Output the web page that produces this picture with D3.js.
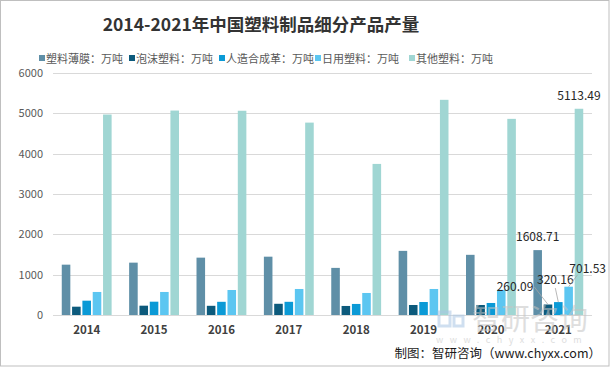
<!DOCTYPE html>
<html><head><meta charset="utf-8">
<script src="https://cdn.jsdelivr.net/npm/d3@7"></script>
<style>body{margin:0;background:#fff}svg{display:block}</style>
</head><body>
<script>
const years = ["2014","2015","2016","2017","2018","2019","2020","2021"];
const seriesNames = ["塑料薄膜：万吨","泡沫塑料：万吨","人造合成革：万吨","日用塑料：万吨","其他塑料：万吨"];
const film    = [1248, 1298, 1422, 1446, 1168, 1590, 1492, 1608.71];
const foam    = [206, 231, 228, 278, 224, 248, 248, 260.09];
const leather = [355, 330, 327, 327, 274, 322, 298, 320.16];
const daily   = [571, 571, 620, 645, 546, 645, 625, 701.53];
const other   = [4970, 5069, 5064, 4770, 3746, 5335, 4863, 5113.49];
const yTicks  = [0,1000,2000,3000,4000,5000,6000];
const colors  = ["#5f8fa7","#0c5a7c","#0b9ad6","#5cc6f1","#a0d6d3"];
const series = [film, foam, leather, daily, other];

const W=610,H=367;
const svg=d3.select("body").append("svg").attr("width",W).attr("height",H);
svg.append("rect").attr("x",0.5).attr("y",0.5).attr("width",W-1.5).attr("height",H-1.5)
  .attr("fill","#fff").attr("stroke","#bfbfbf");

const font="'Microsoft YaHei','Noto Sans CJK SC','Noto Sans',sans-serif";
svg.append("text").attr("x",261).attr("y",31).attr("text-anchor","middle")
  .attr("font-family",font).attr("font-weight","bold").attr("font-size",17.5).attr("fill","#333")
  .text("2014-2021年中国塑料制品细分产品产量");

// legend
const legX=[39,129,219,315,409];
seriesNames.forEach((n,i)=>{
  svg.append("rect").attr("x",legX[i]).attr("y",55).attr("width",6).attr("height",6).attr("fill",colors[i]);
  svg.append("text").attr("x",legX[i]+7).attr("y",63).attr("font-family",font).attr("font-size",11)
    .attr("fill","#595959").text(n);
});

const x0=d3.scaleBand().domain(years).range([53,592]).paddingInner(0.26).paddingOuter(0.13);
const x1=d3.scaleBand().domain(d3.range(5)).range([0,x0.bandwidth()]).paddingInner(0.17);
const y=d3.scaleLinear().domain([0,6000]).range([315,73]);

// gridlines
svg.append("g").selectAll("line").data(yTicks).join("line")
  .attr("x1",53).attr("x2",592).attr("y1",d=>Math.round(y(d))+0.5).attr("y2",d=>Math.round(y(d))+0.5)
  .attr("stroke","#d9d9d9").attr("stroke-width",1);

const yAxis=svg.append("g").attr("transform","translate(47,0)")
  .call(d3.axisLeft(y).tickValues(yTicks).tickFormat(d3.format("d")).tickSize(0).tickPadding(4));
yAxis.select(".domain").remove();
yAxis.selectAll("text").attr("font-family",font).attr("font-size",11).attr("fill","#595959");

const xAxis=svg.append("g").attr("transform","translate(0,315)")
  .call(d3.axisBottom(x0).tickSize(0).tickPadding(11));
xAxis.select(".domain").remove();
xAxis.selectAll("text").attr("font-family",font).attr("font-size",11.5).attr("font-weight","bold").attr("fill","#404040");

// bars
years.forEach((yr,j)=>{
  series.forEach((s,i)=>{
    svg.append("rect").attr("x",x0(yr)+x1(i)).attr("y",y(s[j])).attr("width",x1.bandwidth())
      .attr("height",y(0)-y(s[j])).attr("fill",colors[i]);
  });
});

// watermark (overlay)
const wm=svg.append("g").attr("opacity",0.55);
wm.append("rect").attr("x",439).attr("y",312).attr("width",11).attr("height",14).attr("fill","none").attr("stroke","#a9c6e4").attr("stroke-width",3);
wm.append("rect").attr("x",454).attr("y",316).attr("width",9).attr("height",10).attr("fill","none").attr("stroke","#a9c6e4").attr("stroke-width",3);
wm.append("text").attr("x",472).attr("y",330).attr("font-family",font).attr("font-size",29).attr("fill","#c4c4c4").text("智研咨询");
wm.append("text").attr("x",436).attr("y",343).attr("font-family",font).attr("font-size",9).attr("letter-spacing",6.5).attr("fill","#c4c4c4").text("www.chyxx.com");

// data labels for last year
const last=years.length-1, ly=years[last];
const cx=i=>x0(ly)+x1(i)+x1.bandwidth()/2;
const lab=(t,xx,yy)=>svg.append("text").attr("x",xx).attr("y",yy).attr("text-anchor","middle")
  .attr("font-family",font).attr("font-size",12).attr("fill","#262626").text(t);
lab(d3.format(".2f")(film[last]),cx(0),y(film[last])-9);
lab(d3.format(".2f")(other[last]),cx(4),y(other[last])-9);
lab(d3.format(".2f")(foam[last]),cx(1)-33,y(foam[last])-14);
lab(d3.format(".2f")(leather[last]),cx(2)-3,y(leather[last])-18);
lab(d3.format(".2f")(daily[last]),cx(3)+19,y(daily[last])-14);
const lead=(x1_,y1_,x2_,y2_)=>svg.append("line").attr("x1",x1_).attr("y1",y1_).attr("x2",x2_).attr("y2",y2_)
  .attr("stroke","#a6a6a6").attr("stroke-width",0.8);
lead(cx(1)-14,y(foam[last])-18,cx(1),y(foam[last]));
lead(cx(2)-3,y(leather[last])-14,cx(2),y(leather[last]));
lead(cx(3)+9,y(daily[last])-12,cx(3),y(daily[last]));

svg.append("text").attr("x",601).attr("y",358).attr("text-anchor","end")
  .attr("font-family",font).attr("font-size",12.5).attr("fill","#1a1a1a").text("制图：智研咨询（www.chyxx.com）");
</script>
</body></html>
